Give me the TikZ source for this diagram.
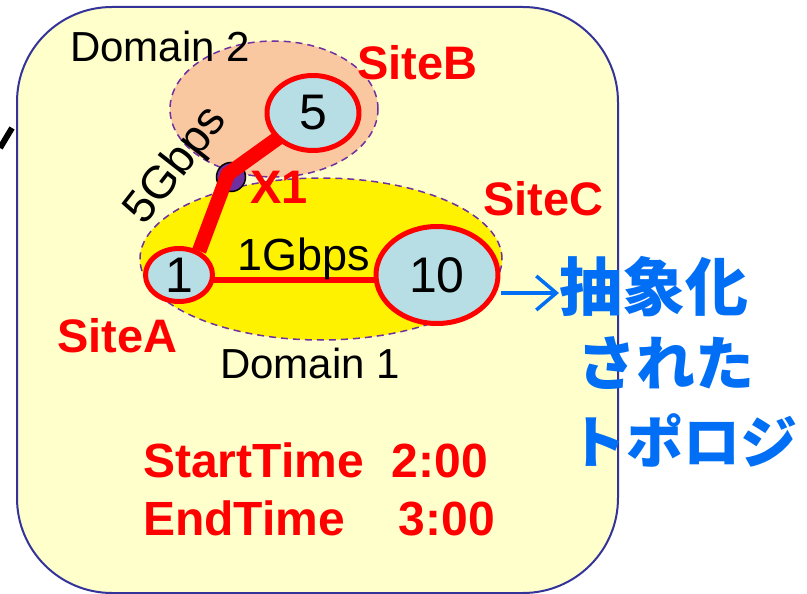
\documentclass[tikz,border=0pt]{standalone}
\usepackage{fontspec}
\setmainfont{Liberation Sans}
\newfontfamily\jpfont{Noto Sans CJK JP}
\usetikzlibrary{arrows.meta,shapes.geometric}
\pgfdeclarelayer{back}
\pgfdeclarelayer{links}
\pgfsetlayers{back,links,main}
\definecolor{panelfill}{RGB}{255,255,204}
\definecolor{paneldraw}{RGB}{51,51,153}
\definecolor{domline}{RGB}{112,48,160}
\definecolor{domtwofill}{RGB}{250,200,160}
\definecolor{sitefill}{RGB}{183,222,228}
\definecolor{abstblue}{RGB}{0,110,245}

\begin{document}
\begin{tikzpicture}[line cap=round, line join=round, >=Stealth, x=1pt, y=-1pt,
  site/.style={ellipse, draw=red, line width=5pt, fill=sitefill, inner sep=0pt,
    font=\fontsize{50}{56}\selectfont},
  domarea/.style={draw=domline, line width=1.5pt, dash pattern=on 7pt off 5pt},
  lbl/.style={anchor=base west, inner sep=0pt, font=\fontsize{42}{48}\selectfont},
  sitelbl/.style={anchor=base west, inner sep=0pt, text=red,
    font=\fontsize{47}{52}\selectfont\bfseries},
  timelbl/.style={anchor=base west, inner sep=0pt, text=red,
    font=\fontsize{48}{54}\selectfont\bfseries},
  abst/.style={anchor=west, inner sep=0pt, text=abstblue}]
  \useasboundingbox (0,0) rectangle (807,594);

  \begin{pgfonlayer}{back}
    \draw[paneldraw, fill=panelfill, line width=2pt, rounded corners=95pt] (17,7) rectangle (618,593);
    \draw[line width=6pt] (0,148) -- (12,128);
    \draw[domarea, fill=domtwofill] (274,109) ellipse [x radius=104pt, y radius=68pt];
    \draw[domarea, fill=yellow] (321,259) ellipse [x radius=181pt, y radius=81pt];
    \node[circle, draw=black, fill=domline, line width=1.5pt, minimum size=29pt, inner sep=0pt] (x1) at (231,177) {};
  \end{pgfonlayer}

  \node[site, minimum width=67pt, minimum height=53pt] (one) at (179,275) {1};
  \node[site, minimum width=92pt, minimum height=75pt] (five) at (313,113) {5};
  \node[site, minimum width=122pt, minimum height=97pt] (ten) at (437,275) {10};

  \node[lbl] (domtwo) at (70,62) {Domain 2};
  \node[lbl] (domone) at (220,378) {Domain 1};
  \node[lbl, font=\fontsize{45}{50}\selectfont] (bwone) at (237,270) {1Gbps};
  \node[rotate=52, inner sep=0pt, font=\fontsize{46}{50}\selectfont] (bwfive) at (177,166) {5Gbps};

  \node[sitelbl] (sitea) at (57,352) {SiteA};
  \node[sitelbl] (siteb) at (357,80) {SiteB};
  \node[sitelbl] (sitec) at (483,215) {SiteC};
  \node[sitelbl] (xlabel) at (250,203) {X1};

  \node[timelbl] (tstart) at (143,477) {StartTime\hspace{28pt}2:00};
  \node[timelbl] (tend) at (143,535) {EndTime\hspace{54pt}3:00};

  \node[abst, font=\fontsize{63}{66}\selectfont\jpfont\bfseries] (absa) at (559,287) {抽象化};
  \node[abst, font=\fontsize{59}{66}\selectfont\jpfont\bfseries] (absb) at (577,363) {された};
  \node[abst, font=\fontsize{57}{66}\selectfont\jpfont\bfseries] (absc) at (569,440) {トポロジ};

  \begin{pgfonlayer}{links}
    \draw[red, line width=14.5pt] (one.50) -- ([xshift=-3pt, yshift=3pt]x1.center) -- (five.center);
    \draw[red, line width=6.5pt] ([yshift=-5pt]one.center) -- ([yshift=-5pt]ten.center);
    \draw[abstblue, line width=3.5pt, -{Straight Barb[length=20pt, width=34pt]}] ([yshift=-18pt]ten.east) -- ([yshift=-6pt]absa.west);
  \end{pgfonlayer}
\end{tikzpicture}
\end{document}
